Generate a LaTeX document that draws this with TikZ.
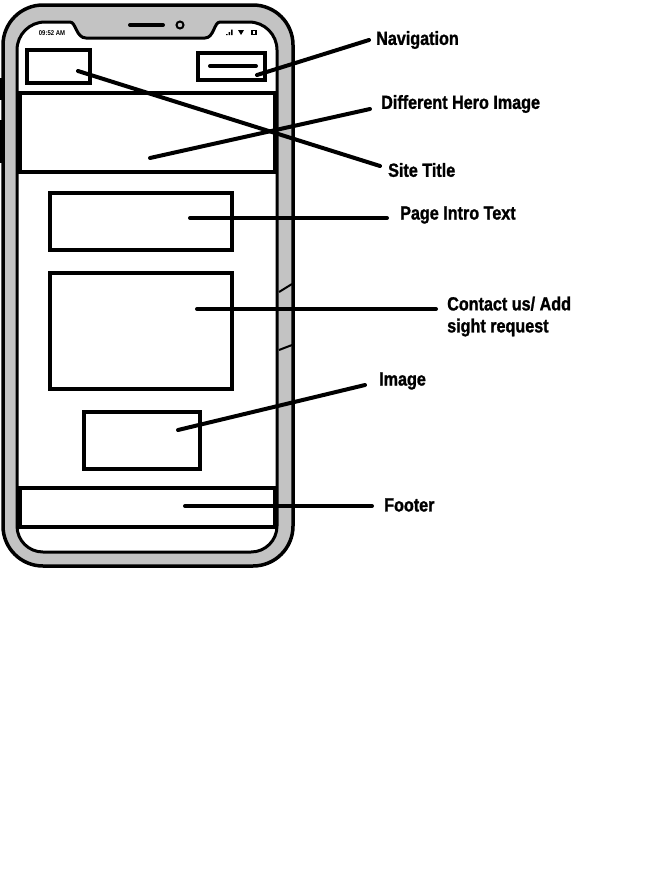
\documentclass[tikz,border=0pt]{standalone}
\usepackage{fontspec}
\setmainfont{Liberation Sans}[FakeStretch=0.85]
\newfontfamily\heavy{Liberation Sans Bold}[FakeStretch=0.85,FakeBold=1.3]
\begin{document}
\begin{tikzpicture}[x=1pt,y=-1pt,
  boxy/.style={draw=black,line width=4pt,fill=white,inner sep=0pt},
  conn/.style={draw=black,line width=4pt,line cap=round},
  lbl/.style={anchor=west,inner sep=0pt,font=\heavy\fontsize{19}{22}\selectfont,align=left},
  bar/.style={draw=black,line width=4pt}]
\useasboundingbox (0,0) rectangle (666,873);
\fill[white] (0,0) rectangle (666,873);
% side buttons
\fill[black] (0,78) rectangle (4,100);
\fill[black] (0,120) rectangle (4,163);
\fill[black] (288,100) rectangle (294,175);
% phone body
\draw[line width=3.5pt,fill={rgb,255:red,195;green,195;blue,195},rounded corners=40pt] (3,5) rectangle (293,566);
% screen with notch
\draw[line width=3pt,fill=white]
  (45,22) -- (70,22) .. controls (76,22) and (76,38) .. (86,38) -- (205,38)
  .. controls (214,38) and (214,22) .. (220,22) -- (249,22)
  .. controls (264.5,22) and (277,34.5) .. (277,50) -- (277,526)
  .. controls (277,540.4) and (265.4,552) .. (251,552) -- (43,552)
  .. controls (28.6,552) and (17,540.4) .. (17,526) -- (17,50)
  .. controls (17,34.5) and (29.5,22) .. (45,22) -- cycle;
% speaker and camera
\draw[line width=4pt,line cap=round] (130,25) -- (163,25);
\draw[line width=2pt] (180,25) circle (3.5);
% status
\node[inner sep=0pt,font=\bfseries\fontsize{7}{8}\selectfont] (time) at (52,33) {09:52 AM};
\fill[black] (226,34) rectangle (227.5,35) (228.5,32) rectangle (230,35) (231,29.5) rectangle (232.5,35);
\fill[black] (238,30) -- (244,30) -- (241,35) -- cycle;
\fill[black] (251,30) rectangle (257,35);
\fill[white] (253,31) rectangle (255,34);
% header
\node[boxy,minimum width=63pt,minimum height=33pt] (sitebox) at (58.5,66.5) {};
\node[boxy,minimum width=67pt,minimum height=27pt] (navbox) at (231.5,66.5) {};
\draw[line width=4pt,line cap=round] (210,66) -- (256,66);
% hero
\draw[bar] (20,93) rectangle (275,172);
% page intro
\node[boxy,minimum width=182pt,minimum height=57pt] (introbox) at (141,221.5) {};
% contact
\node[boxy,minimum width=182pt,minimum height=116pt] (contactbox) at (141,331) {};
% image
\node[boxy,minimum width=116pt,minimum height=57pt] (imagebox) at (142,440.5) {};
% footer
\draw[bar] (20,488) rectangle (275,527);
\draw[bar] (17,488) -- (277,488);
% sketch marks on right edge
\draw[line width=2pt] (279,292) -- (292,284);
\draw[line width=2pt] (279,350) -- (292,345);
% labels
\node[lbl] (navlbl) at (376,40) {Navigation};
\node[lbl] (herolbl) at (381,104) {Different Hero Image};
\node[lbl] (titlelbl) at (388,170) {Site Title};
\node[lbl] (introlbl) at (400,215) {Page Intro Text};
\node[lbl] (contactlbl) at (447,316.5) {Contact us/ Add\\sight request};
\node[lbl] (imagelbl) at (379,381) {Image};
\node[lbl] (footerlbl) at (384,505) {Footer};
% connector end points
\coordinate (navA) at (257,75);   \coordinate (navB) at (369,40);
\coordinate (heroA) at (150,158); \coordinate (heroB) at (370,109);
\coordinate (titleA) at (78,71);  \coordinate (titleB) at (380,166);
\coordinate (introA) at (190,218);\coordinate (introB) at (387,218);
\coordinate (contA) at (197,309); \coordinate (contB) at (436,309);
\coordinate (imgA) at (178,430);  \coordinate (imgB) at (365,385);
\coordinate (footA) at (185,506); \coordinate (footB) at (372,506);
\draw[conn] (navA) -- (navB);
\draw[conn] (heroA) -- (heroB);
\draw[conn] (titleA) -- (titleB);
\draw[conn] (introA) -- (introB);
\draw[conn] (contA) -- (contB);
\draw[conn] (imgA) -- (imgB);
\draw[conn] (footA) -- (footB);
\end{tikzpicture}
\end{document}
